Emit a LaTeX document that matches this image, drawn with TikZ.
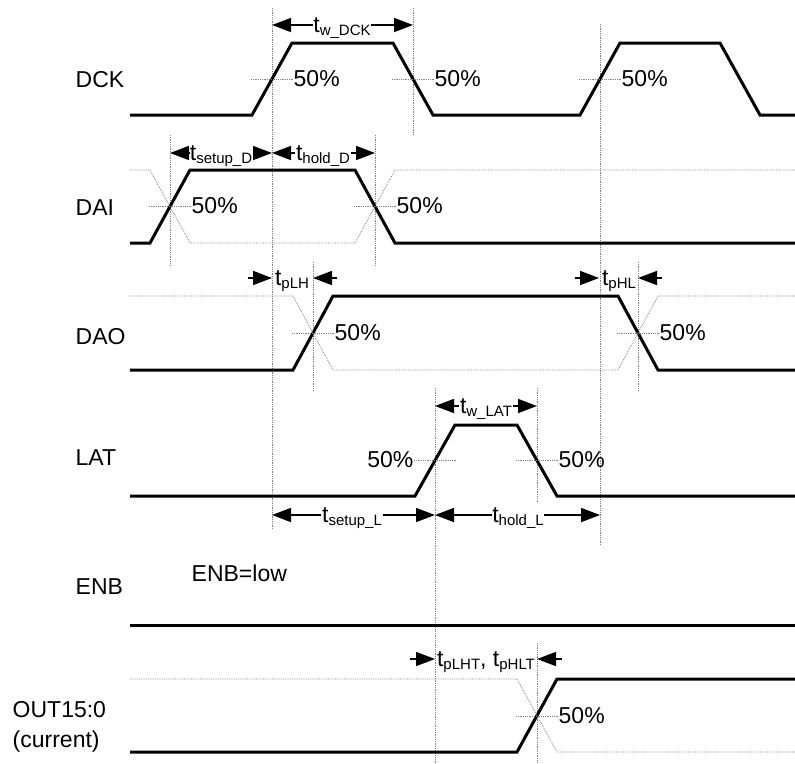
\documentclass[tikz,border=0pt]{standalone}
\usepackage{fontspec}
\setmainfont{Liberation Sans}
\usetikzlibrary{arrows.meta}
\newcommand{\tsub}[1]{t\raisebox{-3pt}{\fontsize{15}{15}\selectfont #1}}

\begin{document}
\begin{tikzpicture}[x=1pt,y=-1pt]
    \tikzset{
      sig/.style={draw, line width=3pt, line join=miter},
      guide/.style={draw, gray, densely dotted, line width=0.8pt},
      arr/.style={draw, line width=1.6pt, -{Triangle[length=19pt,width=14pt]}},
      lbl/.style={inner sep=0.5pt, font=\fontsize{23}{30}\selectfont},
      signame/.style={lbl, anchor=west, align=left},
      pct/.style={lbl, anchor=west}
    }
    \useasboundingbox (0,0) rectangle (795,763);

    % signal names
    \node [signame] (dck) at (75,80) {DCK};
    \node [signame] (dai) at (75,208) {DAI};
    \node [signame] (dao) at (75,337) {DAO};
    \node [signame] (lat) at (75,458) {LAT};
    \node [signame] (enb) at (75,587) {ENB};
    \node [signame] (out) at (12,727) {OUT15:0\\(current)};
    \node [pct] (enblow) at (191,573) {ENB=low};

    % vertical guides
    \foreach \x/\a/\b in {272/8/530, 413/8/135, 600/24/545, 170/135/265, 375/135/265,
                          313/262/390, 638/262/390, 435/388/763, 537/388/503, 537/643/763}
      \path [guide] (\x,\a) -- (\x,\b);

    % waveforms
    \path [sig] (130,115) -- (252,115) -- (292,43) -- (393,43) -- (433,115) -- (580,115)
                -- (620,43) -- (720,43) -- (760,115) -- (800,115);
    \path [sig] (130,243) -- (150,243) -- (190,170) -- (355,170) -- (395,243) -- (800,243);
    \path [guide] (130,170) -- (150,170) -- (190,243) -- (355,243) -- (395,170) -- (800,170);
    \path [sig] (130,370) -- (293,370) -- (333,296) -- (618,296) -- (658,370) -- (800,370);
    \path [guide] (130,296) -- (293,296) -- (333,370) -- (618,370) -- (658,296) -- (800,296);
    \path [sig] (130,496) -- (415,496) -- (455,425) -- (517,425) -- (557,496) -- (800,496);
    \path [sig] (130,625) -- (800,625);
    \path [sig] (130,752) -- (517,752) -- (557,679) -- (800,679);
    \path [guide] (130,679) -- (517,679) -- (557,752) -- (800,752);

    % 50% marks
    \foreach \x/\y [count=\i] in {272/79, 413/79, 600/79, 170/206, 375/206,
                                  313/333, 638/333, 537/460, 537/716} {
      \path [guide] (\x-21,\y) -- (\x+21,\y);
      \node [pct] (pc\i) at (\x+21,\y) {50\%};
    }
    \path [guide] (414,460) -- (456,460);
    \node [lbl, anchor=east] (pclat) at (414,460) {50\%};

    % widths and setup/hold
    \coordinate (wdcka) at (272,25);
    \coordinate (wdckb) at (413,25);
    \node [lbl] (twdck) at (342,28) {\tsub{w\_DCK}};
    \path [arr] (twdck.west |- wdcka) -- (wdcka);
    \path [arr] (twdck.east |- wdckb) -- (wdckb);

    \coordinate (sda) at (170,153);
    \coordinate (sdb) at (272,153);
    \coordinate (hdb) at (375,153);
    \node [lbl] (tsetd) at (221,156) {\tsub{setup\_D}};
    \node [lbl] (tholdd) at (323,156) {\tsub{hold\_D}};
    \path [arr] (tsetd.west |- sda) -- (sda);
    \path [arr] (tsetd.east |- sdb) -- (sdb);
    \path [arr] (tholdd.west |- sdb) -- (sdb);
    \path [arr] (tholdd.east |- hdb) -- (hdb);

    \coordinate (wlata) at (435,406);
    \coordinate (wlatb) at (537,406);
    \node [lbl] (twlat) at (486,409) {\tsub{w\_LAT}};
    \path [arr] (twlat.west |- wlata) -- (wlata);
    \path [arr] (twlat.east |- wlatb) -- (wlatb);

    \coordinate (sla) at (272,515);
    \coordinate (slb) at (435,515);
    \coordinate (hlb) at (600,515);
    \node [lbl] (tsetl) at (352,518) {\tsub{setup\_L}};
    \node [lbl] (tholdl) at (518,518) {\tsub{hold\_L}};
    \path [arr] (tsetl.west |- sla) -- (sla);
    \path [arr] (tsetl.east |- slb) -- (slb);
    \path [arr] (tholdl.west |- slb) -- (slb);
    \path [arr] (tholdl.east |- hlb) -- (hlb);

    % propagation delays
    \node [lbl] (tplh) at (292,281) {\tsub{pLH}};
    \coordinate (plha) at (248,278);
    \coordinate (plhb) at (272,278);
    \coordinate (plhc) at (337,278);
    \coordinate (plhd) at (313,278);
    \path [arr] (plha) -- (plhb);
    \path [arr] (plhc) -- (plhd);

    \node [lbl] (tphl) at (619,281) {\tsub{pHL}};
    \coordinate (phla) at (575,278);
    \coordinate (phlb) at (599,278);
    \coordinate (phlc) at (662,278);
    \coordinate (phld) at (638,278);
    \path [arr] (phla) -- (phlb);
    \path [arr] (phlc) -- (phld);

    \node [lbl] (tpt) at (486,662) {\tsub{pLHT}, \tsub{pHLT}};
    \coordinate (pta) at (410,659);
    \coordinate (ptb) at (435,659);
    \coordinate (ptc) at (562,659);
    \coordinate (ptd) at (537,659);
    \path [arr] (pta) -- (ptb);
    \path [arr] (ptc) -- (ptd);
\end{tikzpicture}
\end{document}
